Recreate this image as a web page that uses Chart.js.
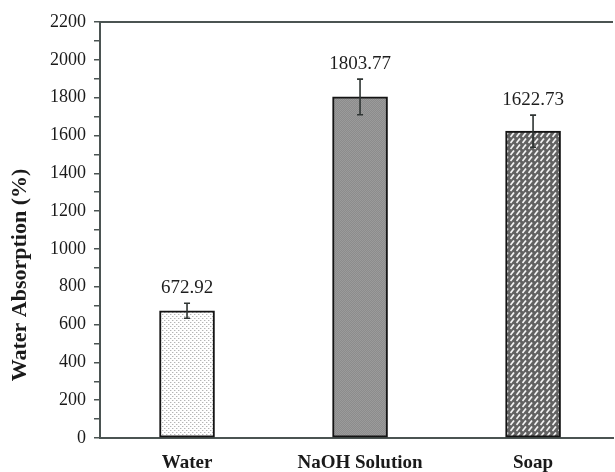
<!DOCTYPE html>
<html>
<head>
<meta charset="utf-8">
<script src="https://cdn.jsdelivr.net/npm/chart.js@4"></script>
<style>
html,body{margin:0;padding:0;background:#fff;overflow:hidden;}
canvas{display:block;}
</style>
</head>
<body>
<canvas id="c" width="615" height="472"></canvas>
<script>
const categories = ['Water', 'NaOH Solution', 'Soap'];
const values = [672.92, 1803.77, 1622.73];
const errors = [40, 94, 85];
const valueLabels = ['672.92', '1803.77', '1622.73'];
const yTickValues = [0, 200, 400, 600, 800, 1000, 1200, 1400, 1600, 1800, 2000, 2200];
const yTitle = 'Water Absorption (%)';

const AXIS = '#4b5452';
const FONT = "'Liberation Serif', 'Times New Roman', serif";

function makePattern(size, draw) {
  const c = document.createElement('canvas');
  c.width = size; c.height = size;
  const g = c.getContext('2d');
  draw(g, size);
  return document.getElementById('c').getContext('2d').createPattern(c, 'repeat');
}
const dotPattern = makePattern(4, (g) => {
  g.fillStyle = '#ffffff'; g.fillRect(0, 0, 4, 4);
  g.fillStyle = '#b5b5b5'; g.fillRect(0, 0, 1, 1); g.fillRect(2, 2, 1, 1);
  g.fillStyle = '#e2e2e2'; g.fillRect(1, 0, 1, 1); g.fillRect(3, 2, 1, 1);
});
const greyPattern = makePattern(2, (g) => {
  g.fillStyle = '#8c8c8c'; g.fillRect(0, 0, 2, 2);
  g.fillStyle = '#9b9b9b'; g.fillRect(0, 0, 1, 1); g.fillRect(1, 1, 1, 1);
});
const hatchPattern = makePattern(6, (g) => {
  g.fillStyle = '#626262'; g.fillRect(0, 0, 6, 6);
  g.strokeStyle = '#f4f4f4'; g.lineWidth = 1.7; g.lineCap = 'butt';
  g.beginPath(); g.moveTo(0.5, 5); g.lineTo(4, 0.5); g.stroke();
});

const extras = {
  id: 'extras',
  beforeDatasetsDraw(chart) {
    const {ctx, chartArea} = chart;
    ctx.save();
    ctx.strokeStyle = AXIS; ctx.lineWidth = 2;
    ctx.beginPath();
    ctx.moveTo(chartArea.left, chartArea.top);
    ctx.lineTo(chartArea.right, chartArea.top);
    ctx.stroke();
    ctx.restore();
  },
  afterDatasetsDraw(chart) {
    const {ctx, chartArea} = chart;
    const xs = chart.scales.x, ys = chart.scales.y;
    ctx.save();
    values.forEach((v, i) => {
      const x = xs.getPixelForValue(i);
      const yTop = ys.getPixelForValue(v + errors[i]);
      const yBot = ys.getPixelForValue(v - errors[i]);
      ctx.strokeStyle = '#2f3533'; ctx.lineWidth = 1.6;
      ctx.beginPath();
      ctx.moveTo(x, yTop); ctx.lineTo(x, yBot);
      ctx.moveTo(x - 3, yTop); ctx.lineTo(x + 3, yTop);
      ctx.moveTo(x - 3, yBot); ctx.lineTo(x + 3, yBot);
      ctx.stroke();
      ctx.fillStyle = '#1e1e1e';
      ctx.font = '19px ' + FONT;
      ctx.textAlign = 'center'; ctx.textBaseline = 'alphabetic';
      ctx.fillText(valueLabels[i], x, yTop - 10);
    });
    ctx.translate(20, (chartArea.top + chartArea.bottom) / 2 + 45);
    ctx.rotate(-Math.PI / 2);
    ctx.fillStyle = '#1a1a1a';
    ctx.font = 'bold 22px ' + FONT;
    ctx.textAlign = 'center'; ctx.textBaseline = 'middle';
    ctx.fillText(yTitle, 0, 0);
    ctx.restore();
  }
};

new Chart(document.getElementById('c'), {
  type: 'bar',
  data: {
    datasets: [{
      data: values.map((v, i) => ({x: i, y: v})),
      backgroundColor: [dotPattern, greyPattern, hatchPattern],
      borderColor: '#141414',
      borderWidth: 2,
      borderSkipped: false,
      barThickness: 55
    }]
  },
  options: {
    responsive: false,
    animation: false,
    devicePixelRatio: 1,
    layout: {padding: {top: 22, right: 2, left: 0, bottom: 0}},
    plugins: {legend: {display: false}, tooltip: {enabled: false}},
    scales: {
      x: {
        type: 'linear',
        offset: false,
        min: -0.503,
        max: 2.462,
        grid: {display: false, drawTicks: false},
        border: {display: true, color: AXIS, width: 2},
        afterBuildTicks: (s) => { s.ticks = categories.map((_, i) => ({value: i})); },
        afterFit: (s) => { s.height = 34; },
        ticks: {
          callback: (v) => categories[v],
          font: {family: FONT, size: 19, weight: 'bold'},
          color: '#1a1a1a',
          padding: 14,
          maxRotation: 0,
          autoSkip: false
        }
      },
      y: {
        min: 0,
        max: 2200,
        afterBuildTicks: (s) => {
          const t = [];
          yTickValues.forEach((v, i) => {
            t.push({value: v});
            if (i < yTickValues.length - 1) t.push({value: (v + yTickValues[i + 1]) / 2});
          });
          s.ticks = t;
        },
        afterFit: (s) => { s.width = 100; },
        grid: {display: true, drawOnChartArea: false, drawTicks: true, tickLength: 6, color: AXIS, lineWidth: 1.5},
        border: {display: true, color: AXIS, width: 2},
        ticks: {
          callback: (v) => yTickValues.includes(v) ? String(v) : '',
          font: {family: FONT, size: 18},
          color: '#1a1a1a',
          padding: 8,
          autoSkip: false
        }
      }
    }
  },
  plugins: [extras]
});
</script>
</body>
</html>
